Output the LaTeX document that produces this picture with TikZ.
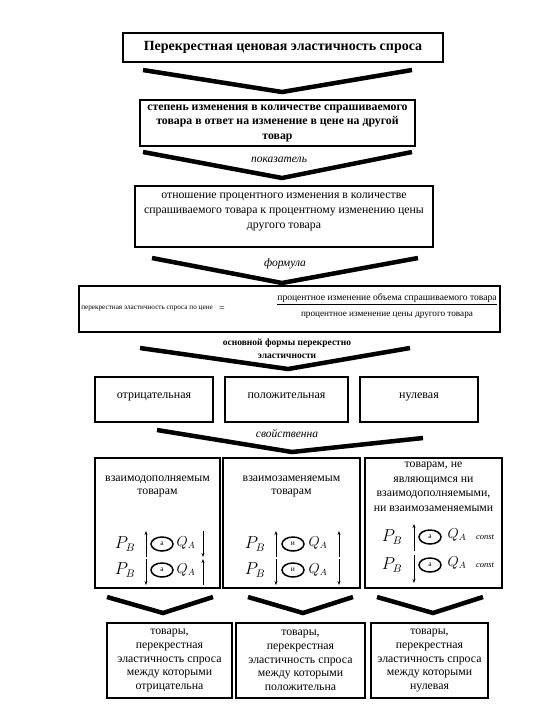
\documentclass[tikz,border=0pt]{standalone}
\usepackage{fontspec}
\setmainfont{Liberation Serif}
\usetikzlibrary{arrows.meta,shapes.geometric}
\begin{document}
\begin{tikzpicture}[x=1pt,y=-1pt,
  box/.style={draw, line width=1.5pt, inner sep=0pt, align=center},
  kind/.style={box, minimum height=45pt, text height=8.5pt, text depth=11.5pt, font=\fontsize{12}{12}\selectfont},
  chev/.style={line width=4.5pt, line join=miter},
  lbl/.style={fill=white, inner sep=1pt, font=\itshape\fontsize{11.5}{12}\selectfont},
  txt/.style={align=center, inner sep=0pt},
  arr/.style={line width=0.8pt, -{Stealth[length=4pt,width=3pt]}},
  ell/.style={draw, ellipse, line width=1.5pt, minimum width=22pt, minimum height=14pt, inner sep=0pt, font=\fontsize{7.5}{8}\selectfont},
  pb/.style={inner sep=0pt, font=\fontsize{16}{16}\selectfont},
  qa/.style={inner sep=0pt, font=\fontsize{13.5}{13.5}\selectfont},
  cst/.style={inner sep=0pt, font=\itshape\fontsize{8.5}{9}\selectfont}
]
\useasboundingbox (0,0) rectangle (540,720);

% boxes
\node[box, minimum width=320pt, minimum height=29pt, font=\bfseries\fontsize{14}{16}\selectfont] (title) at (283,47.5) {Перекрестная ценовая эластичность спроса};
\node[box, minimum width=275pt, minimum height=46pt, font=\bfseries\fontsize{11.8}{14.5}\selectfont] (def) at (277.5,123) {степень изменения в количестве спрашиваемого\\товара в ответ на изменение в цене на другой\\товар};
\node[box, minimum width=298pt, minimum height=61pt] (ind) at (284,216.5) {};
\node[txt, font=\fontsize{11.8}{15}\selectfont] (indt) at (284,212) {отношение процентного изменения в количестве\\спрашиваемого товара к процентному изменению цены\\другого товара};
\node[box, minimum width=421pt, minimum height=46pt] (form) at (289.5,309) {};
\node[inner sep=0pt, font=\fontsize{7.2}{8}\selectfont] (fl) at (147,309) {перекрестная эластичность спроса по цене};
\node[inner sep=0pt, font=\fontsize{10}{10}\selectfont] (eq) at (222,309) {=};
\node[inner sep=0pt, font=\fontsize{9.6}{10}\selectfont] (num) at (387,298.5) {процентное изменение объема спрашиваемого товара};
\node[inner sep=0pt, font=\fontsize{9.2}{10}\selectfont] (den) at (387,315) {процентное изменение цены другого товара};
\path (num.south west) ++(0,1.5) coordinate (fa) (num.south east) ++(0,1.5) coordinate (fb);
\draw[line width=0.6pt] (fa) -- (fb);

\node[kind, minimum width=118pt] (neg) at (154,399.5) {отрицательная};
\node[kind, minimum width=123pt] (pos) at (286.5,399.5) {положительная};
\node[kind, minimum width=118pt] (zer) at (419,399.5) {нулевая};

\node[box, minimum width=125pt, minimum height=130pt] (c1) at (157.5,523) {};
\node[box, minimum width=137pt, minimum height=130pt] (c2) at (291.5,523) {};
\node[box, minimum width=137pt, minimum height=130pt] (c3) at (433.5,523) {};

\node[txt, font=\fontsize{11.8}{13}\selectfont] (t1) at (157.5,486.5) {взаимодополняемым\\товарам};
\node[txt, font=\fontsize{11.8}{13}\selectfont] (t2) at (291.5,486.5) {взаимозаменяемым\\товарам};
\node[txt, font=\fontsize{11.8}{14.5}\selectfont] (t3) at (433.5,487) {товарам, не\\являющимся ни\\взаимодополняемыми,\\ни взаимозаменяемыми};

% formulas c1
\node[pb] (p11) at (125,544) {$P_B$};
\node[ell] (e11) at (162,544) {а};
\node[qa] (q11) at (186,543) {$Q_A$};
\node[pb] (p12) at (125,570) {$P_B$};
\node[ell] (e12) at (162,570) {а};
\node[qa] (q12) at (186,570) {$Q_A$};
\draw[arr] (146,557) -- (146,531);
\draw[arr] (146,559) -- (146,585);
\draw[arr] (203,531) -- (203,557);
\draw[arr] (203,585) -- (203,559);
% formulas c2
\node[pb] (p21) at (255,544) {$P_B$};
\node[ell] (e21) at (293,544) {и};
\node[qa] (q21) at (318,543) {$Q_A$};
\node[pb] (p22) at (255,570) {$P_B$};
\node[ell] (e22) at (293,570) {и};
\node[qa] (q22) at (318,570) {$Q_A$};
\draw[arr] (276,557) -- (276,531);
\draw[arr] (276,559) -- (276,585);
\draw[arr] (339,557) -- (339,531);
\draw[arr] (339,559) -- (339,585);
% formulas c3
\node[pb] (p31) at (392,537) {$P_B$};
\node[ell] (e31) at (430,537) {а};
\node[qa] (q31) at (457,535) {$Q_A$};
\node[cst] (k31) at (485,537) {const};
\node[pb] (p32) at (392,565) {$P_B$};
\node[ell] (e32) at (430,565) {а};
\node[qa] (q32) at (457,563) {$Q_A$};
\node[cst] (k32) at (485,565) {const};
\draw[arr] (414,551) -- (414,524);
\draw[arr] (414,555) -- (414,583);

\node[box, minimum width=125pt, minimum height=75pt, font=\fontsize{11.8}{13.7}\selectfont] (r1) at (169.5,660.5) {товары,\\перекрестная\\эластичность спроса\\между которыми\\отрицательна};
\node[box, minimum width=129pt, minimum height=75pt, font=\fontsize{11.8}{13.7}\selectfont] (r2) at (300.5,660.5) {товары,\\перекрестная\\эластичность спроса\\между которыми\\положительна};
\node[box, minimum width=117pt, minimum height=75pt, font=\fontsize{11.8}{13.7}\selectfont] (r3) at (429.5,660.5) {товары,\\перекрестная\\эластичность спроса\\между которыми\\нулевая};

% chevrons
\coordinate (a1) at (143,70); \coordinate (m1) at (282,92); \coordinate (b1) at (412,70);
\draw[chev] (a1) -- (m1) -- (b1);
\coordinate (a2) at (143,152); \coordinate (m2) at (282,178); \coordinate (b2) at (412,152);
\draw[chev] (a2) -- (m2) -- (b2);
\node[lbl] (l2) at (279,160) {показатель};
\coordinate (a3) at (152,258); \coordinate (m3) at (282,283); \coordinate (b3) at (418,258);
\draw[chev] (a3) -- (m3) -- (b3);
\node[lbl] (l3) at (285,264) {формула};
\coordinate (a4) at (140,348); \coordinate (m4) at (288,369); \coordinate (b4) at (410,348);
\draw[chev] (a4) -- (m4) -- (b4);
\node[fill=white, inner sep=0.5pt, font=\bfseries\fontsize{9.5}{10}\selectfont] (l4) at (287,343) {основной формы перекрестно};
\node[fill=white, inner sep=0.5pt, font=\bfseries\fontsize{9.5}{10}\selectfont] (l4b) at (287,356) {эластичности};
\coordinate (a5) at (157,430); \coordinate (m5) at (292,452); \coordinate (b5) at (423,438);
\draw[chev] (a5) -- (m5) -- (b5);
\node[lbl] (l5) at (287,433) {свойственна};
\coordinate (a6) at (107,597); \coordinate (m6) at (163,613); \coordinate (b6) at (213,597);
\draw[chev] (a6) -- (m6) -- (b6);
\coordinate (a7) at (248,597); \coordinate (m7) at (303,613); \coordinate (b7) at (353,597);
\draw[chev] (a7) -- (m7) -- (b7);
\coordinate (a8) at (377,597); \coordinate (m8) at (433,613); \coordinate (b8) at (483,597);
\draw[chev] (a8) -- (m8) -- (b8);
\end{tikzpicture}
\end{document}
